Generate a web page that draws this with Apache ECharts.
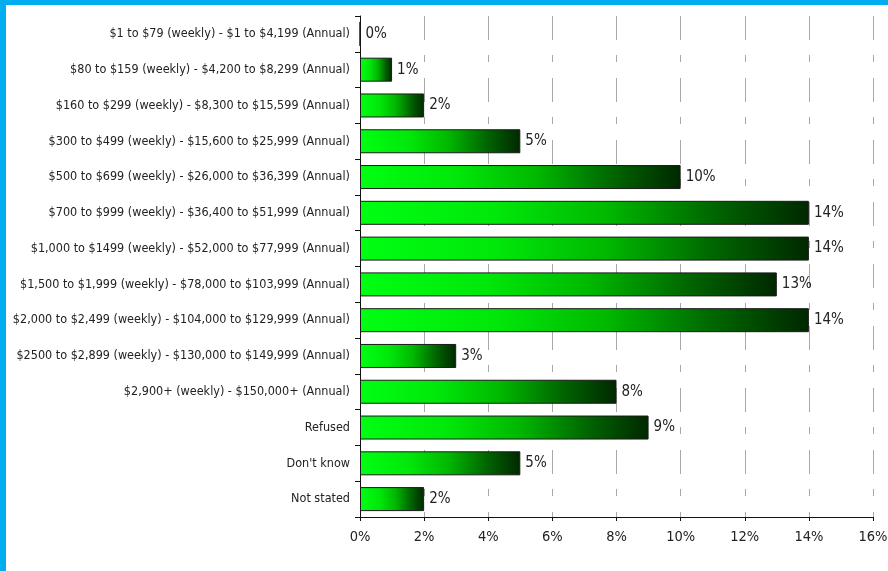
<!DOCTYPE html>
<html>
<head>
<meta charset="utf-8">
<script src="https://cdn.jsdelivr.net/npm/echarts@6/dist/echarts.min.js"></script>
<style>
  html, body { margin: 0; padding: 0; background: #fff; }
  #chart { width: 888px; height: 571px; }
</style>
</head>
<body>
<div id="chart"></div>
<script>
// Household income bands (weekly and annual) with share of respondents
const categories = [
  '$1 to $79 (weekly) - $1 to $4,199 (Annual)',
  '$80 to $159 (weekly) - $4,200 to $8,299 (Annual)',
  '$160 to $299 (weekly) - $8,300 to $15,599 (Annual)',
  '$300 to $499 (weekly) - $15,600 to $25,999 (Annual)',
  '$500 to $699 (weekly) - $26,000 to $36,399 (Annual)',
  '$700 to $999 (weekly) - $36,400 to $51,999 (Annual)',
  '$1,000 to $1499 (weekly) - $52,000 to $77,999 (Annual)',
  '$1,500 to $1,999 (weekly) - $78,000 to $103,999 (Annual)',
  '$2,000 to $2,499 (weekly) - $104,000 to $129,999 (Annual)',
  '$2500 to $2,899 (weekly) - $130,000 to $149,999 (Annual)',
  '$2,900+ (weekly) - $150,000+ (Annual)',
  'Refused',
  "Don't know",
  'Not stated'
];
const shares = [0, 1, 2, 5, 10, 14, 14, 13, 14, 3, 8, 9, 5, 2];
const xTicks = [0, 2, 4, 6, 8, 10, 12, 14, 16];

const font = "'Liberation Sans Narrow', 'Arial Narrow', 'DejaVu Sans Condensed', sans-serif";

const chart = echarts.init(document.getElementById('chart'), null, { renderer: 'canvas' });

chart.setOption({
  animation: false,
  backgroundColor: '#ffffff',
  graphic: [
    { type: 'rect', left: 0, top: 0, shape: { width: 888, height: 5 }, style: { fill: '#00aeef' }, silent: true },
    { type: 'rect', left: 0, top: 0, shape: { width: 6, height: 571 }, style: { fill: '#00aeef' }, silent: true }
  ],
  grid: { left: 360, top: 16, right: 15, bottom: 54, containLabel: false, outerBoundsMode: 'none' },
  xAxis: {
    type: 'value',
    min: xTicks[0],
    max: xTicks[xTicks.length - 1],
    interval: 2,
    axisLine: { show: true, lineStyle: { color: '#111', width: 1 } },
    axisTick: { show: true, length: 4, lineStyle: { color: '#111' } },
    axisLabel: {
      formatter: v => v + '%',
      color: '#222',
      fontFamily: font,
      fontSize: 14.5,
      margin: 13
    },
    splitLine: {
      show: true,
      lineStyle: { color: '#a8a8a8', width: 1, type: [24, 15, 7, 16] }
    }
  },
  yAxis: {
    type: 'category',
    inverse: true,
    data: categories,
    axisLine: { show: true, lineStyle: { color: '#111', width: 1 } },
    axisTick: { show: true, length: 5, lineStyle: { color: '#111' } },
    axisLabel: {
      color: '#222',
      fontFamily: font,
      fontSize: 12.5,
      margin: 10
    },
    splitLine: { show: false }
  },
  series: [{
    type: 'bar',
    data: shares,
    barWidth: 24,
    itemStyle: {
      borderColor: '#1a1a1a',
      borderWidth: 1,
      color: new echarts.graphic.LinearGradient(0, 0, 1, 0, [
        { offset: 0, color: '#00ff12' },
        { offset: 0.3, color: '#00e80a' },
        { offset: 0.55, color: '#00b800' },
        { offset: 0.8, color: '#006200' },
        { offset: 1, color: '#002800' }
      ])
    },
    label: {
      show: true,
      position: 'right',
      distance: 5,
      formatter: p => p.value + '%',
      color: '#222',
      fontFamily: font,
      fontSize: 15
    }
  }]
});
</script>
</body>
</html>
